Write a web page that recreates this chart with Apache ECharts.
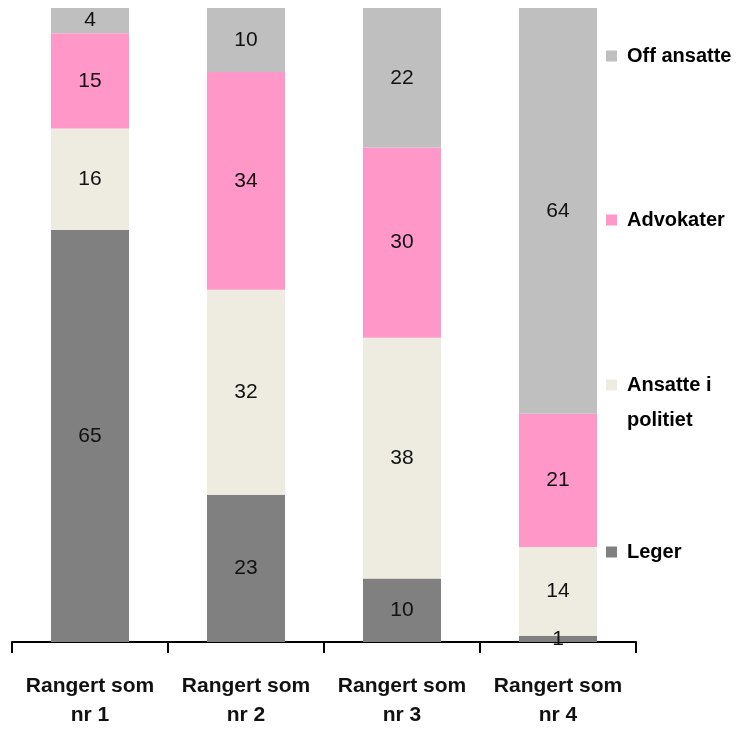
<!DOCTYPE html>
<html>
<head>
<meta charset="utf-8">
<script src="https://cdn.jsdelivr.net/npm/echarts@6/dist/echarts.min.js"></script>
<style>
  html, body { margin: 0; padding: 0; background: #fff; }
  #main { width: 740px; height: 730px; }
</style>
</head>
<body>
<div id="main"></div>
<script>
var categories = ['Rangert som\nnr 1', 'Rangert som\nnr 2', 'Rangert som\nnr 3', 'Rangert som\nnr 4'];
var leger = [65, 23, 10, 1];
var politiet = [16, 32, 38, 14];
var advokater = [15, 34, 30, 21];
var offAnsatte = [4, 10, 22, 64];

// 100% stacked: each column is drawn as share of its own total, label shows the raw value
var totals = categories.map(function (c, i) {
  return leger[i] + politiet[i] + advokater[i] + offAnsatte[i];
});
function shares(arr) {
  return arr.map(function (v, i) { return { value: v / totals[i] * 100, raw: v }; });
}

var myChart = echarts.init(document.getElementById('main'));

var legendFont = { fontSize: 20, fontWeight: 'bold', color: '#000', fontFamily: 'Liberation Sans' };

function seriesOf(name, arr, color) {
  return {
    name: name,
    type: 'bar',
    stack: 'total',
    barWidth: '50%',
    data: shares(arr),
    itemStyle: { color: color },
    label: {
      show: true,
      position: 'inside',
      color: '#111',
      fontSize: 21,
      fontFamily: 'Liberation Sans',
      formatter: function (p) { return p.data.raw; }
    }
  };
}

function legendAt(name, top, fmt) {
  return {
    data: [name],
    left: 606,
    top: top,
    padding: 0,
    itemWidth: 11,
    itemHeight: 11,
    itemGap: 0,
    icon: 'rect',
    selectedMode: false,
    formatter: fmt || '{name}',
    textStyle: Object.assign({ padding: [0, 0, 0, 5] }, legendFont)
  };
}

myChart.setOption({
  animation: false,
  grid: { left: 12, right: 104, top: 8, bottom: 88 },
  legend: [
    legendAt('Off ansatte', 46),
    legendAt('Advokater', 210),
    legendAt('Ansatte i politiet', 375, 'Ansatte i'),
    legendAt('Leger', 542)
  ],
  graphic: [{
    type: 'text',
    left: 627,
    top: 410,
    style: { text: 'politiet', fill: '#000', font: 'bold 20px "Liberation Sans"' }
  }],
  xAxis: {
    type: 'category',
    data: categories,
    axisLine: { lineStyle: { color: '#000', width: 2 } },
    axisTick: { show: true, length: 11, lineStyle: { color: '#000', width: 2 } },
    axisLabel: {
      color: '#111',
      fontSize: 21,
      fontWeight: 'bold',
      fontFamily: 'Liberation Sans',
      lineHeight: 29,
      margin: 30,
      interval: 0
    }
  },
  yAxis: {
    type: 'value',
    min: 0,
    max: 100,
    show: false
  },
  series: [
    seriesOf('Leger', leger, '#808080'),
    seriesOf('Ansatte i politiet', politiet, '#EEECE1'),
    seriesOf('Advokater', advokater, '#FF97C9'),
    seriesOf('Off ansatte', offAnsatte, '#BFBFBF')
  ]
});
</script>
</body>
</html>
